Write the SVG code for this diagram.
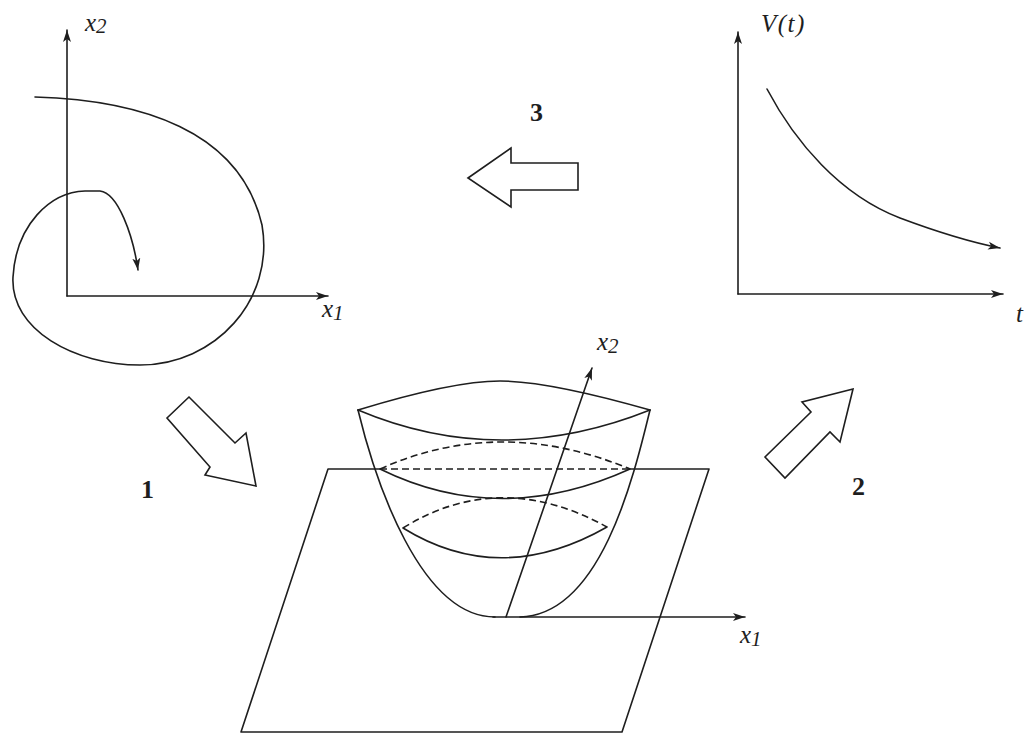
<svg xmlns="http://www.w3.org/2000/svg" width="1024" height="735" viewBox="0 0 1024 735">
<style>
.ln{fill:none;stroke:#1e1e1e;stroke-width:1.6;stroke-linejoin:round;stroke-linecap:round}
.ds{fill:none;stroke:#1e1e1e;stroke-width:1.6;stroke-dasharray:7,4}
.blk{fill:#fff;stroke:#1e1e1e;stroke-width:1.6;stroke-linejoin:miter}
.lab{font-family:"Liberation Serif","Times New Roman",serif;font-style:italic;font-size:25px;fill:#1e1e1e}
.num{font-family:"Liberation Serif","Times New Roman",serif;font-weight:bold;font-size:26px;fill:#1e1e1e}
</style>
<defs>
<marker id="ah" markerUnits="userSpaceOnUse" markerWidth="13" markerHeight="9" refX="12" refY="4.5" orient="auto">
<path d="M0,0.5 L12,4.5 L0,8.5 L3,4.5 z" fill="#1e1e1e"/>
</marker>
</defs>
<rect width="1024" height="735" fill="#fff"/>

<g id="phase-plot">
<line class="ln" x1="67" y1="296" x2="67" y2="30" marker-end="url(#ah)"/>
<line class="ln" x1="67" y1="296" x2="328" y2="296" marker-end="url(#ah)"/>
<path class="ln" d="M35,97 C140,100 240,130 262,225 C275,300 215,365 140,365 C75,365 10,330 13,277 C16,225 50,192 85,191 L100,191 C118,193 133,235 138,270" marker-end="url(#ah)"/>
<text class="lab" x="85" y="31">x<tspan font-size="21" dy="2">2</tspan></text>
<text class="lab" x="322" y="317">x<tspan font-size="21" dy="3">1</tspan></text>
</g>

<g id="v-plot">
<line class="ln" x1="738" y1="294" x2="738" y2="32" marker-end="url(#ah)"/>
<line class="ln" x1="738" y1="294" x2="1003" y2="294" marker-end="url(#ah)"/>
<path class="ln" d="M767,89 C795,142 840,195 900,218 C940,233 970,242 1000,248" marker-end="url(#ah)"/>
<text class="lab" x="761" y="32" font-size="28" letter-spacing="1.5">V(t)</text>
<text class="lab" x="1016" y="322">t</text>
</g>

<g id="bowl">
<path class="ln" d="M380,469 L328,469 L241,732 L622,732 L709,469 L630,469"/>
<line class="ds" x1="380" y1="469" x2="630" y2="469"/>
<path class="ln" d="M358,410 C430,388 470,381 500,381 C530,381 580,390 650,410"/>
<path class="ln" d="M358,410 Q500,470 650,410"/>
<path class="ds" d="M380,469 Q500,415 630,469"/>
<path class="ln" d="M380,469 Q500,528 630,469"/>
<path class="ds" d="M403,528 Q500,468 607,527"/>
<path class="ln" d="M403,528 Q500,588 607,527"/>
<path class="ln" d="M358,410 C375,480 420,617 495,617"/>
<path class="ln" d="M650,410 C633,480 600,615 520,617"/>
<line class="ln" x1="493" y1="617" x2="745" y2="617" marker-end="url(#ah)"/>
<line class="ln" x1="506" y1="617" x2="592" y2="368" marker-end="url(#ah)"/>
<text class="lab" x="597" y="350">x<tspan font-size="21" dy="3">2</tspan></text>
<text class="lab" x="740" y="643">x<tspan font-size="21" dy="3">1</tspan></text>
</g>

<g id="connectors">
<g id="arrow-1">
<polygon class="blk" points="189,397 167,418 210,467 205,475 256,486 246,433 235,443"/>
<text class="num" x="141" y="498">1</text>
</g>
<g id="arrow-2">
<polygon class="blk" points="853,389 802,402 811,412 765,457 785,478 830,432 840,442"/>
<text class="num" x="852" y="495">2</text>
</g>
<g id="arrow-3">
<polygon class="blk" points="468,178 511,148 511,163 578,163 578,190 511,190 511,207"/>
<text class="num" x="530" y="121">3</text>
</g>
</g>
</svg>
